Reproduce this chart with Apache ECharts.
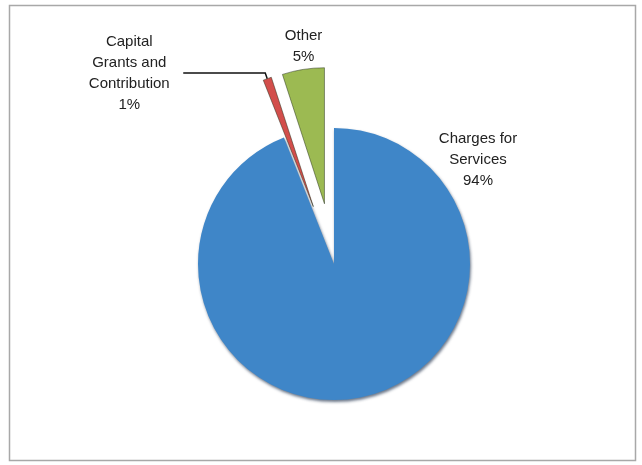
<!DOCTYPE html>
<html>
<head>
<meta charset="utf-8">
<script src="https://cdn.jsdelivr.net/npm/echarts@6/dist/echarts.min.js"></script>
<style>
  html, body { margin: 0; padding: 0; background: #fff; }
  #chart { width: 642px; height: 465px; }
</style>
</head>
<body>
<div id="chart"></div>
<script>
// Revenue sources by share
const categories = ['Charges for\nServices', 'Capital\nGrants and\nContribution', 'Other'];
const shares = [94, 1, 5];
const sliceColors = ['#3F86C8', '#D24E4B', '#9CBA52'];
const exploded = [false, true, true];

const chart = echarts.init(document.getElementById('chart'));

// Each line of a label is centred inside the label box
function centredLines(p) {
  const lines = (p.name + '\n' + p.value + '%').split('\n');
  return lines.map(l => '{c|' + l + '}').join('\n');
}

const baseLabel = {
  show: true,
  position: 'outside',
  fontFamily: 'Liberation Sans, Arial, sans-serif',
  fontSize: 15,
  lineHeight: 21,
  color: '#222',
  formatter: centredLines,
  rich: { c: { align: 'center', fontSize: 15, lineHeight: 21, color: '#222',
               fontFamily: 'Liberation Sans, Arial, sans-serif' } }
};

// Per-slice label/leader settings
const itemLabels = [
  { label: {}, labelLine: { show: false } },
  { label: { width: 102, distanceToLabelLine: 3 },
    labelLine: { show: true, length: 6, length2: 82 } },
  { label: { distanceToLabelLine: 0, padding: [0, 0, 0, 8] },
    labelLine: { show: false, length: 23, length2: 0 } }
];

chart.setOption({
  backgroundColor: '#ffffff',
  animation: false,
  graphic: [{
    type: 'rect',
    shape: { x: 9.5, y: 5.5, width: 626, height: 455 },
    style: { fill: 'none', stroke: '#a8a8a8', lineWidth: 1.5 },
    silent: true
  }],
  series: [{
    type: 'pie',
    center: [334, 264],
    radius: [0, 136],
    startAngle: 90,
    clockwise: true,
    avoidLabelOverlap: false,
    selectedMode: 'multiple',
    selectedOffset: 61,
    emphasis: { disabled: true },
    label: baseLabel,
    labelLine: { lineStyle: { color: '#111', width: 1.5 } },
    // The large slice's label sits beside it, upper right; "Other" is centred over its slice
    labelLayout: function (params) {
      if (params.dataIndex === 0) {
        return { x: 478, y: 160, align: 'center', verticalAlign: 'middle' };
      }
      if (params.dataIndex === 2) {
        return { align: 'center' };
      }
      return {};
    },
    data: categories.map((name, i) => ({
      name: name,
      value: shares[i],
      selected: exploded[i],
      itemStyle: i === 0
        ? { color: sliceColors[i], shadowColor: 'rgba(10,30,60,0.6)', shadowBlur: 3,
            shadowOffsetX: 1, shadowOffsetY: 2 }
        : { color: sliceColors[i], borderColor: 'rgba(30,40,20,0.6)', borderWidth: 0.8 },
      label: itemLabels[i].label,
      labelLine: itemLabels[i].labelLine
    }))
  }]
});
</script>
</body>
</html>
